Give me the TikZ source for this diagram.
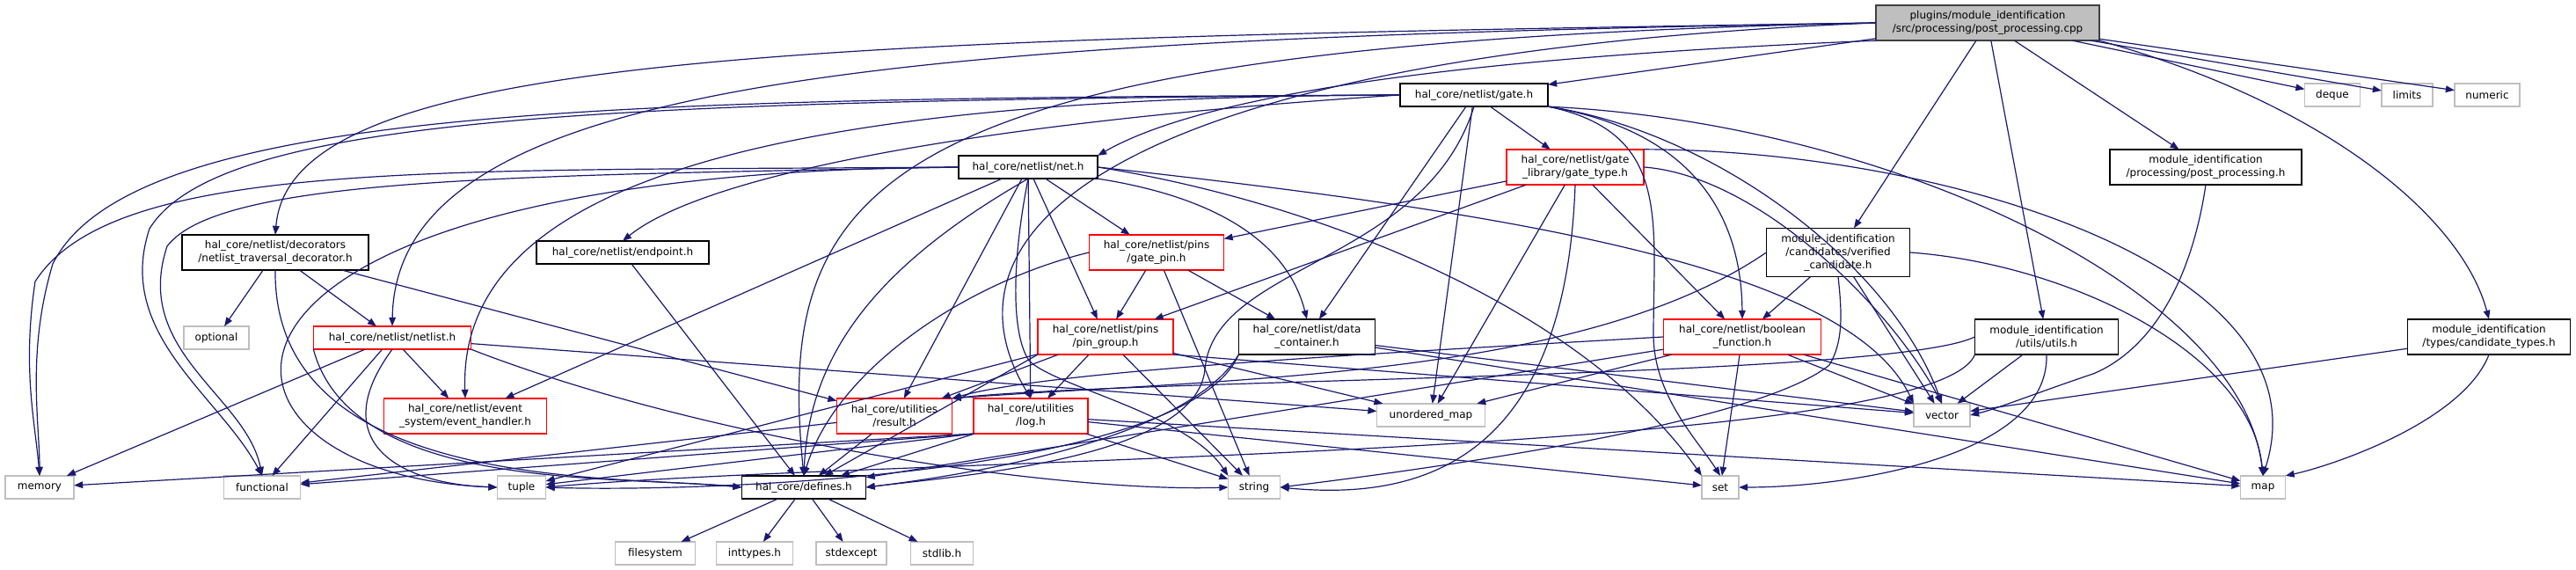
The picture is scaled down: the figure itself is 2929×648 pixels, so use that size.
\documentclass[tikz,border=0pt]{standalone}
\usepackage{fontspec}
\setmainfont{DejaVu Sans}
\usetikzlibrary{arrows.meta}
\definecolor{edgeblue}{HTML}{191970}
\definecolor{boxgray}{HTML}{BFBFBF}
\tikzset{
  box/.style={rectangle, align=center, inner sep=2pt, minimum height=26,
    font=\fontsize{12}{15}\selectfont, line width=0.3pt, transform shape},
  hdr/.style={box, draw=black},
  trunc/.style={box, draw=red},
  sys/.style={box, draw=boxgray},
  srcfile/.style={box, draw=black!75, fill=boxgray},
  incl/.style={->, draw=edgeblue, line width=0.3pt}
}
\begin{document}
\begin{tikzpicture}[x=1pt,y=-1pt,scale=0.25,>={Triangle[length=2.5pt,width=1.9pt]}]
    \useasboundingbox (0,0) rectangle (2929,648);

    % the source file
    \node[srcfile, minimum width=254, minimum height=40] (root) at (2260,26) {plugins/module\_identification\\/src/processing/post\_processing.cpp};

    % first rows of headers
    \node[sys, minimum width=63] (deque) at (2652,108) {deque};
    \node[sys, minimum width=58] (limits) at (2737,108) {limits};
    \node[sys, minimum width=74] (numeric) at (2828,108) {numeric};
    \node[hdr, minimum width=168] (gate) at (1676,108) {hal\_core/netlist/gate.h};
    \node[hdr, minimum width=158] (net) at (1169,190) {hal\_core/netlist/net.h};
    \node[trunc, minimum width=156, minimum height=40] (gatetype) at (1791,190) {hal\_core/netlist/gate\\\_library/gate\_type.h};
    \node[hdr, minimum width=218, minimum height=40] (postproc) at (2508,190) {module\_identification\\/processing/post\_processing.h};
    \node[hdr, minimum width=212, minimum height=40] (decorator) at (313,287) {hal\_core/netlist/decorators\\/netlist\_traversal\_decorator.h};
    \node[hdr, minimum width=196] (endpoint) at (708,287) {hal\_core/netlist/endpoint.h};
    \node[trunc, minimum width=153, minimum height=40] (gatepin) at (1315,287) {hal\_core/netlist/pins\\/gate\_pin.h};
    \node[hdr, minimum width=163, minimum height=55] (verified) at (2090,287) {module\_identification\\/candidates/verified\\\_candidate.h};
    \node[sys, minimum width=74] (optional) at (246,384) {optional};
    \node[trunc, minimum width=179] (netlist) at (446,384) {hal\_core/netlist/netlist.h};
    \node[trunc, minimum width=154, minimum height=40] (pingroup) at (1257,383) {hal\_core/netlist/pins\\/pin\_group.h};
    \node[hdr, minimum width=155, minimum height=40] (datacont) at (1486,383) {hal\_core/netlist/data\\\_container.h};
    \node[trunc, minimum width=179, minimum height=40] (boolfunc) at (1981,383) {hal\_core/netlist/boolean\\\_function.h};
    \node[hdr, minimum width=163, minimum height=40] (utils) at (2327,383) {module\_identification\\/utils/utils.h};
    \node[hdr, minimum width=185, minimum height=40] (candtypes) at (2830,383) {module\_identification\\/types/candidate\_types.h};
    \node[trunc, minimum width=185, minimum height=40] (events) at (529,473) {hal\_core/netlist/event\\\_system/event\_handler.h};
    \node[trunc, minimum width=131, minimum height=40] (result) at (1017,473) {hal\_core/utilities\\/result.h};
    \node[trunc, minimum width=130, minimum height=40] (log) at (1172,473) {hal\_core/utilities\\/log.h};
    \node[sys, minimum width=123] (umap) at (1627,472) {unordered\_map};
    \node[sys, minimum width=64] (vector) at (2208,472) {vector};

    % bottom rows
    \node[sys, minimum width=78] (memory) at (45,554) {memory};
    \node[sys, minimum width=87] (functional) at (298,554) {functional};
    \node[sys, minimum width=55] (tuple) at (593,554) {tuple};
    \node[hdr, minimum width=141] (defines) at (914,554) {hal\_core/defines.h};
    \node[sys, minimum width=59] (string) at (1426,554) {string};
    \node[sys, minimum width=42] (set) at (1956,554) {set};
    \node[sys, minimum width=51] (map) at (2573,554) {map};
    \node[sys, minimum width=91] (filesystem) at (745,629) {filesystem};
    \node[sys, minimum width=87] (inttypes) at (858,629) {inttypes.h};
    \node[sys, minimum width=80] (stdexcept) at (968,629) {stdexcept};
    \node[sys, minimum width=71] (stdlib) at (1071,629) {stdlib.h};

    % includes of the source file
    \draw[incl] (root.west) .. controls (900,45) and (330,60) .. (decorator.north);
    \draw[incl] (root.west) .. controls (1000,45) and (450,90) .. (netlist.north);
    \draw[incl] (root.west) .. controls (1300,60) and (1050,250) .. (log.north);
    \draw[incl] (root.west) .. controls (1000,50) and (880,200) .. (defines.north);
    \draw[incl] (root) -- (gate);
    \draw[incl] (root.south west) .. controls (1800,60) and (1400,90) .. (net.north east);
    \draw[incl] (root) -- (verified);
    \draw[incl] (root) -- (utils);
    \draw[incl] (root) -- (postproc);
    \draw[incl] (root.south east) .. controls (2650,120) and (2800,250) .. (candtypes.north);
    \draw[incl] (root) -- (deque);
    \draw[incl] (root) -- (limits);
    \draw[incl] (root) -- (numeric);

    % decorator and netlist
    \draw[incl] (decorator) -- (optional);
    \draw[incl] (decorator) -- (netlist);
    \draw[incl] (decorator) -- (result);
    \draw[incl] (decorator.south) .. controls (310,560) and (700,540) .. (defines.west);
    \draw[incl] (netlist) -- (memory);
    \draw[incl] (netlist) -- (functional);
    \draw[incl] (netlist.south) .. controls (370,500) and (450,550) .. (tuple.west);
    \draw[incl] (netlist.south west) .. controls (400,560) and (700,540) .. (defines.west);
    \draw[incl] (netlist) -- (events);
    \draw[incl] (netlist) -- (umap);
    \draw[incl] (netlist.south east) .. controls (800,500) and (1200,560) .. (string.west);

    % gate
    \draw[incl] (gate.west) .. controls (1100,140) and (800,200) .. (endpoint.north);
    \draw[incl] (gate.west) .. controls (900,110) and (520,200) .. (events.north);
    \draw[incl] (gate.west) .. controls (700,112) and (150,120) .. (60,300) .. controls (30,400) and (45,480) .. (memory.north);
    \draw[incl] (gate.west) .. controls (700,115) and (250,130) .. (170,260) .. controls (130,380) and (250,450) .. (functional.north);
    \draw[incl] (gate.south) .. controls (1620,300) and (1380,300) .. (1370,420) .. controls (1360,520) and (1100,540) .. (defines.east);
    \draw[incl] (gate) -- (gatetype);
    \draw[incl] (gate) -- (datacont);
    \draw[incl] (gate) -- (umap);
    \draw[incl] (gate.south east) .. controls (1930,150) and (1980,250) .. (boolfunc.north);
    \draw[incl] (gate.south east) .. controls (1900,150) and (1880,250) .. (1880,380) .. controls (1880,450) and (1930,500) .. (set.north);
    \draw[incl] (gate.south east) .. controls (1950,150) and (2150,300) .. (vector.north);
    \draw[incl] (gate.south east) .. controls (2150,140) and (2550,330) .. (map.north);

    % net
    \draw[incl] (net) -- (events);
    \draw[incl] (net.west) .. controls (500,195) and (130,180) .. (40,320) .. controls (25,420) and (40,480) .. (memory.north);
    \draw[incl] (net.west) .. controls (600,200) and (250,200) .. (190,280) .. controls (150,400) and (280,450) .. (functional.north);
    \draw[incl] (net.west) .. controls (150,195) and (200,540) .. (tuple.west);
    \draw[incl] (net.south) .. controls (1000,300) and (920,400) .. (defines.north);
    \draw[incl] (net) -- (result);
    \draw[incl] (net) -- (log);
    \draw[incl] (net) -- (gatepin);
    \draw[incl] (net) -- (pingroup);
    \draw[incl] (net.south east) .. controls (1420,230) and (1470,300) .. (datacont.north);
    \draw[incl] (net.south) .. controls (1150,300) and (1150,380) .. (1170,410) .. controls (1200,440) and (1350,470) .. (string.north west);
    \draw[incl] (net.east) .. controls (1500,230) and (1800,350) .. (set.north west);
    \draw[incl] (net.east) .. controls (1700,240) and (2100,300) .. (vector.north west);

    % netlist parts
    \draw[incl] (endpoint) -- (defines);
    \draw[incl] (gatetype) -- (gatepin);
    \draw[incl] (gatetype) -- (pingroup);
    \draw[incl] (gatetype) -- (umap);
    \draw[incl] (gatetype.south) .. controls (1780,520) and (1620,570) .. (string.east);
    \draw[incl] (gatetype) -- (boolfunc);
    \draw[incl] (gatetype.east) .. controls (2000,200) and (2150,350) .. (vector.north);
    \draw[incl] (gatetype.north east) .. controls (2200,170) and (2650,300) .. (map.north);
    \draw[incl] (gatepin) -- (pingroup);
    \draw[incl] (gatepin) -- (datacont);
    \draw[incl] (gatepin) -- (string);
    \draw[incl] (gatepin.west) .. controls (1100,320) and (950,420) .. (defines.north);
    \draw[incl] (pingroup) -- (result);
    \draw[incl] (pingroup) -- (log);
    \draw[incl] (pingroup) -- (string);
    \draw[incl] (pingroup) -- (umap);
    \draw[incl] (pingroup.south east) -- (vector);
    \draw[incl] (pingroup) -- (tuple);
    \draw[incl] (pingroup.south west) -- (defines);
    \draw[incl] (datacont.south west) .. controls (1350,500) and (1100,540) .. (defines.east);
    \draw[incl] (datacont.south west) .. controls (1350,540) and (800,560) .. (tuple.east);
    \draw[incl] (datacont) -- (map);
    \draw[incl] (datacont) -- (vector);
    \draw[incl] (boolfunc.west) .. controls (1600,400) and (1200,420) .. (result.north east);
    \draw[incl] (boolfunc) -- (umap);
    \draw[incl] (boolfunc) -- (defines);
    \draw[incl] (boolfunc) -- (set);
    \draw[incl] (boolfunc) -- (vector);
    \draw[incl] (boolfunc) -- (map);

    % module identification headers
    \draw[incl] (verified) -- (boolfunc);
    \draw[incl] (verified) -- (vector);
    \draw[incl] (verified.east) .. controls (2350,300) and (2560,400) .. (map.north);
    \draw[incl] (verified.west) .. controls (1800,430) and (1400,430) .. (result.north east);
    \draw[incl] (verified.south) .. controls (2095,360) and (2095,390) .. (2080,415) .. controls (2000,480) and (1650,530) .. (string.east);
    \draw[incl] (utils.west) .. controls (2150,430) and (1300,430) .. (result.north east);
    \draw[incl] (utils) -- (vector);
    \draw[incl] (utils.south west) .. controls (2200,520) and (1000,520) .. (tuple.east);
    \draw[incl] (utils.south) .. controls (2330,520) and (2100,554) .. (set.east);
    \draw[incl] (postproc.south) .. controls (2490,330) and (2440,400) .. (2380,425) .. controls (2320,445) and (2270,465) .. (vector.east);
    \draw[incl] (candtypes) -- (vector);
    \draw[incl] (candtypes.south) .. controls (2800,480) and (2650,530) .. (map.north east);

    % utilities
    \draw[incl] (result) -- (defines);
    \draw[incl] (result) -- (functional);
    \draw[incl] (log.south west) -- (memory);
    \draw[incl] (log.south west) -- (functional);
    \draw[incl] (log.south west) -- (tuple);
    \draw[incl] (log) -- (defines);
    \draw[incl] (log) -- (string);
    \draw[incl] (log) -- (set);
    \draw[incl] (log) -- (map);

    % system headers of defines
    \draw[incl] (defines) -- (filesystem);
    \draw[incl] (defines) -- (inttypes);
    \draw[incl] (defines) -- (stdexcept);
    \draw[incl] (defines) -- (stdlib);
\end{tikzpicture}
\end{document}
